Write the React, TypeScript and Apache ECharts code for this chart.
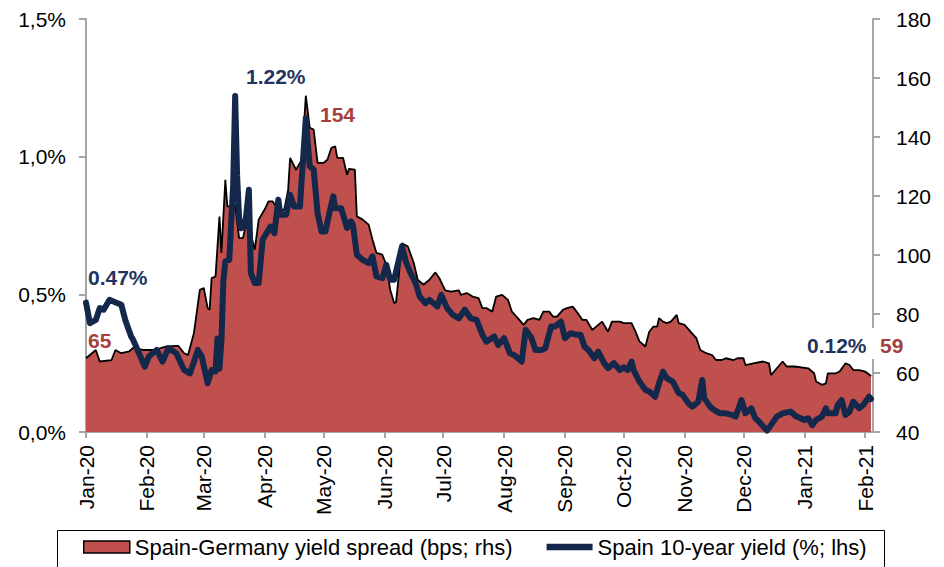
import React, { useEffect, useRef } from "react";
import * as echarts from "echarts";

const FONT = "'Liberation Sans', Arial, sans-serif";
const NAVY = "#14284b";
const NAVY_TEXT = "#1f3560";
const RED_FILL = "#c0504d";
const RED_TEXT = "#a5403d";
const AXIS_GRAY = "#a6a6a6";

const monthStarts = [
  "2020-01-01", "2020-02-01", "2020-03-01", "2020-04-01", "2020-05-01", "2020-06-01", "2020-07-01",
  "2020-08-01", "2020-09-01", "2020-10-01", "2020-11-01", "2020-12-01", "2021-01-01", "2021-02-01",
];
const monthLabels = [
  "Jan-20", "Feb-20", "Mar-20", "Apr-20", "May-20", "Jun-20", "Jul-20",
  "Aug-20", "Sep-20", "Oct-20", "Nov-20", "Dec-20", "Jan-21", "Feb-21",
];
const axisStart = "2020-01-01";
const axisEnd = "2021-02-05";

// Spain-Germany yield spread (bps, right axis)
const spreadDates = [
  "2020-01-01", "2020-01-06", "2020-01-08", "2020-01-14", "2020-01-16", "2020-01-19", "2020-01-23", "2020-01-25", "2020-01-30",
  "2020-02-05", "2020-02-11", "2020-02-17", "2020-02-20", "2020-02-22", "2020-02-25", "2020-02-28",
  "2020-03-01", "2020-03-03", "2020-03-04", "2020-03-05", "2020-03-07", "2020-03-09", "2020-03-10", "2020-03-12", "2020-03-13", "2020-03-15", "2020-03-17", "2020-03-19", "2020-03-21", "2020-03-23", "2020-03-27", "2020-03-29",
  "2020-04-01", "2020-04-03", "2020-04-05", "2020-04-08", "2020-04-11", "2020-04-13", "2020-04-14", "2020-04-17", "2020-04-20", "2020-04-22", "2020-04-24", "2020-04-26", "2020-04-28",
  "2020-05-01", "2020-05-03", "2020-05-05", "2020-05-07", "2020-05-08", "2020-05-11", "2020-05-13", "2020-05-14", "2020-05-17", "2020-05-18", "2020-05-21", "2020-05-24", "2020-05-26", "2020-05-28", "2020-05-31",
  "2020-06-02", "2020-06-04", "2020-06-06", "2020-06-07", "2020-06-10", "2020-06-13", "2020-06-16", "2020-06-18", "2020-06-21", "2020-06-24", "2020-06-27", "2020-06-29",
  "2020-07-02", "2020-07-05", "2020-07-09", "2020-07-10", "2020-07-13", "2020-07-16", "2020-07-19", "2020-07-21", "2020-07-23", "2020-07-26", "2020-07-28", "2020-07-31",
  "2020-08-03", "2020-08-05", "2020-08-08", "2020-08-11", "2020-08-13", "2020-08-16", "2020-08-19", "2020-08-21", "2020-08-24", "2020-08-26", "2020-08-28", "2020-08-31",
  "2020-09-02", "2020-09-05", "2020-09-07", "2020-09-10", "2020-09-12", "2020-09-15", "2020-09-18", "2020-09-20", "2020-09-23", "2020-09-25", "2020-09-29",
  "2020-10-01", "2020-10-05", "2020-10-07", "2020-10-09", "2020-10-12", "2020-10-14", "2020-10-16", "2020-10-18", "2020-10-19", "2020-10-21", "2020-10-23", "2020-10-25", "2020-10-28", "2020-10-29",
  "2020-11-01", "2020-11-04", "2020-11-07", "2020-11-09", "2020-11-12", "2020-11-15", "2020-11-17", "2020-11-20", "2020-11-22", "2020-11-26", "2020-11-28",
  "2020-12-01", "2020-12-02", "2020-12-06", "2020-12-11", "2020-12-14", "2020-12-15", "2020-12-18", "2020-12-21", "2020-12-23", "2020-12-27",
  "2021-01-03", "2021-01-06", "2021-01-07", "2021-01-10", "2021-01-12", "2021-01-13", "2021-01-17", "2021-01-19", "2021-01-22", "2021-01-24", "2021-01-26", "2021-01-29",
  "2021-02-01", "2021-02-04",
];
const spreadBps = [
  65, 67.8, 63.9, 64.4, 67.8, 66.7, 67.3, 68.5, 67.8,
  67.8, 69, 69.2, 66.7, 66.1, 73.6, 88.2,
  88.8, 82, 81.4, 92.2, 92.7, 113, 100.7, 125.5, 116.5, 116.5, 117, 105.7, 105.7, 112, 101.8, 112,
  115.4, 118.2, 118.2, 115.4, 115.4, 122.1, 132.9, 128.9, 132.3, 154, 143.1, 142.5, 131.2,
  131.2, 132.3, 136.3, 136.8, 132.9, 132.9, 127.2, 129.2, 128.9, 113.1, 112, 110.3, 105.2, 100.7, 100.1,
  96.7, 88.2, 83.7, 84, 104, 102.9, 97.3, 91.6, 89.9, 91.6, 94.1, 92.2,
  88, 87.6, 88, 86.5, 87.1, 85.9, 85.4, 82, 82, 80.8, 85.9, 86.5,
  84.8, 80.8, 78.6, 76.3, 78, 78.6, 78, 80.8, 80.8, 79.1, 79.1, 81.4,
  82, 82.5, 80.8, 78, 78, 74.6, 76.3, 77.4, 74, 77.4, 77.4,
  76.9, 76.9, 74, 70.7, 69, 74, 75.7, 75.7, 78.6, 77.4, 76.9, 77.4, 79.7, 76.9,
  76.3, 74, 71.8, 67.8, 66.7, 66.1, 64.4, 64.4, 65, 64.4, 65,
  65, 62.7, 63.3, 63.9, 63.3, 59.3, 61.6, 63.9, 62.2, 62.2,
  61.6, 59.9, 57.1, 56, 56.5, 59.9, 59.9, 60.5, 63.3, 62.7, 61, 61,
  60.5, 59,
];

// Spain 10-year yield (%, left axis)
const yieldDates = [
  "2020-01-01", "2020-01-03", "2020-01-06", "2020-01-08", "2020-01-10", "2020-01-13", "2020-01-15", "2020-01-19", "2020-01-21", "2020-01-24", "2020-01-25", "2020-01-28", "2020-01-31",
  "2020-02-02", "2020-02-06", "2020-02-09", "2020-02-12", "2020-02-16", "2020-02-20", "2020-02-23", "2020-02-27", "2020-02-29",
  "2020-03-03", "2020-03-05", "2020-03-07", "2020-03-08", "2020-03-09", "2020-03-10", "2020-03-11", "2020-03-12", "2020-03-14", "2020-03-16", "2020-03-17", "2020-03-18", "2020-03-19", "2020-03-20", "2020-03-22", "2020-03-24", "2020-03-25", "2020-03-27", "2020-03-29", "2020-03-31",
  "2020-04-02", "2020-04-04", "2020-04-06", "2020-04-08", "2020-04-09", "2020-04-12", "2020-04-14", "2020-04-16", "2020-04-19", "2020-04-22", "2020-04-24", "2020-04-26", "2020-04-28", "2020-04-30",
  "2020-05-02", "2020-05-04", "2020-05-06", "2020-05-07", "2020-05-10", "2020-05-13", "2020-05-15", "2020-05-16", "2020-05-18", "2020-05-21", "2020-05-24", "2020-05-26", "2020-05-28", "2020-05-31",
  "2020-06-02", "2020-06-04", "2020-06-06", "2020-06-10", "2020-06-12", "2020-06-14", "2020-06-17", "2020-06-19", "2020-06-22", "2020-06-24", "2020-06-28", "2020-06-30",
  "2020-07-03", "2020-07-06", "2020-07-09", "2020-07-12", "2020-07-15", "2020-07-18", "2020-07-21", "2020-07-23", "2020-07-27", "2020-07-29",
  "2020-08-01", "2020-08-04", "2020-08-06", "2020-08-10", "2020-08-12", "2020-08-15", "2020-08-17", "2020-08-20", "2020-08-22", "2020-08-25", "2020-08-27", "2020-08-30",
  "2020-09-01", "2020-09-04", "2020-09-07", "2020-09-09", "2020-09-11", "2020-09-13", "2020-09-16", "2020-09-18", "2020-09-21", "2020-09-23", "2020-09-26", "2020-09-29",
  "2020-10-01", "2020-10-03", "2020-10-05", "2020-10-06", "2020-10-09", "2020-10-12", "2020-10-14", "2020-10-17", "2020-10-19", "2020-10-21", "2020-10-23", "2020-10-26", "2020-10-29", "2020-10-31",
  "2020-11-03", "2020-11-05", "2020-11-08", "2020-11-10", "2020-11-11", "2020-11-14", "2020-11-16", "2020-11-19", "2020-11-22", "2020-11-25", "2020-11-27", "2020-11-30",
  "2020-12-02", "2020-12-05", "2020-12-07", "2020-12-09", "2020-12-13", "2020-12-15", "2020-12-18", "2020-12-21", "2020-12-25", "2020-12-28",
  "2021-01-01", "2021-01-03", "2021-01-05", "2021-01-07", "2021-01-10", "2021-01-12", "2021-01-13", "2021-01-17", "2021-01-18", "2021-01-20", "2021-01-22", "2021-01-24", "2021-01-26", "2021-01-29", "2021-01-31",
  "2021-02-03", "2021-02-04",
];
const yieldPct = [
  0.47, 0.395, 0.407, 0.45, 0.444, 0.48, 0.474, 0.462, 0.407, 0.347, 0.335, 0.286, 0.237,
  0.274, 0.298, 0.256, 0.304, 0.286, 0.225, 0.213, 0.298, 0.274,
  0.177, 0.225, 0.22, 0.34, 0.23, 0.33, 0.55, 0.62, 0.625, 0.9, 1.22, 0.93, 0.78, 0.74, 0.746, 0.88, 0.577, 0.541, 0.541, 0.698,
  0.722, 0.746, 0.722, 0.844, 0.789, 0.789, 0.862, 0.819, 0.819, 1.14, 0.965, 0.953, 0.795, 0.728,
  0.728, 0.795, 0.856, 0.813, 0.813, 0.741, 0.765, 0.753, 0.644, 0.625, 0.613, 0.638, 0.565, 0.559,
  0.607, 0.553, 0.553, 0.674, 0.619, 0.583, 0.541, 0.492, 0.468, 0.48, 0.456, 0.498,
  0.45, 0.425, 0.413, 0.444, 0.413, 0.407, 0.353, 0.328, 0.347, 0.316,
  0.341, 0.286, 0.28, 0.256, 0.371, 0.341, 0.298, 0.298, 0.304, 0.383, 0.383, 0.401,
  0.341, 0.359, 0.353, 0.353, 0.31, 0.298, 0.268, 0.292, 0.25, 0.232, 0.25, 0.225,
  0.235, 0.225, 0.256, 0.225, 0.183, 0.153, 0.147, 0.128, 0.177, 0.219, 0.195, 0.183, 0.141, 0.135,
  0.104, 0.092, 0.11, 0.189, 0.123, 0.092, 0.08, 0.068, 0.068, 0.062, 0.056, 0.116,
  0.068, 0.086, 0.05, 0.037, 0.005, 0.025, 0.056, 0.068, 0.074, 0.056,
  0.044, 0.05, 0.025, 0.044, 0.056, 0.086, 0.068, 0.068, 0.098, 0.116, 0.062, 0.074, 0.11, 0.086, 0.098,
  0.128, 0.12,
];

const seriesNames = ["Spain-Germany yield spread (bps; rhs)", "Spain 10-year yield (%; lhs)"];

const DAY0 = Date.UTC(2020, 0, 1);
function toDay(s: string): number {
  const [y, m, d] = s.split("-").map(Number);
  return Math.round((Date.UTC(y, m - 1, d) - DAY0) / 86400000);
}

export default function App() {
  const ref = useRef<HTMLDivElement>(null);

  useEffect(() => {
    if (!ref.current) return;
    const chart = echarts.init(ref.current, undefined, { renderer: "svg" });
    const monthDays = monthStarts.map(toDay);
    const labelOf: Record<number, string> = {};
    monthDays.forEach((d, i) => (labelOf[d] = monthLabels[i]));

    const spreadData = spreadDates.map((d, i) => [toDay(d), spreadBps[i]]);
    const yieldData = yieldDates.map((d, i) => [toDay(d), yieldPct[i]]);

    const axisLineStyle = { color: AXIS_GRAY, width: 2 };
    const labelStyle = { fontFamily: FONT, fontSize: 21, color: "#000" };
    const noteFont = { fontFamily: FONT, fontSize: 21, fontWeight: "bold" as const };

    chart.setOption({
      animation: false,
      textStyle: { fontFamily: FONT },
      grid: { left: 86, right: 71, top: 19, bottom: 135, containLabel: false },
      xAxis: {
        type: "value",
        min: toDay(axisStart),
        max: toDay(axisEnd),
        splitLine: { show: false },
        axisLine: { show: true, lineStyle: axisLineStyle },
        axisTick: { show: true, length: 6, customValues: monthDays, lineStyle: axisLineStyle },
        axisLabel: {
          ...labelStyle,
          customValues: monthDays,
          rotate: 90,
          margin: 13,
          formatter: (v: number) => labelOf[v] ?? "",
        },
      },
      yAxis: [
        {
          type: "value",
          position: "left",
          min: 0,
          max: 1.5,
          interval: 0.5,
          splitLine: { show: false },
          axisLine: { show: true, lineStyle: axisLineStyle },
          axisTick: { show: true, length: 7, lineStyle: axisLineStyle },
          axisLabel: {
            ...labelStyle,
            margin: 20,
            formatter: (v: number) => v.toFixed(1).replace(".", ",") + "%",
          },
        },
        {
          type: "value",
          position: "right",
          min: 40,
          max: 180,
          interval: 20,
          splitLine: { show: false },
          axisLine: { show: true, lineStyle: axisLineStyle },
          axisTick: { show: true, length: 7, lineStyle: axisLineStyle },
          axisLabel: { ...labelStyle, margin: 23 },
        },
      ],
      legend: {
        left: 83,
        top: 536,
        padding: 0,
        itemWidth: 46,
        itemHeight: 12,
        itemGap: 34,
        textStyle: { ...labelStyle, fontSize: 22 },
        data: [
          {
            name: seriesNames[0],
            icon: "rect",
            itemStyle: { color: RED_FILL, borderColor: "#000", borderWidth: 1.5 },
          },
          {
            name: seriesNames[1],
            icon: "path://M0 0H80V11H0Z",
            itemStyle: { color: NAVY },
          },
        ],
      },
      series: [
        {
          name: seriesNames[0],
          type: "line",
          yAxisIndex: 1,
          data: spreadData,
          symbol: "none",
          z: 2,
          itemStyle: { color: RED_FILL },
          lineStyle: { color: "#000", width: 1.8 },
          areaStyle: { color: RED_FILL, opacity: 1, origin: "start" },
        },
        {
          name: seriesNames[1],
          type: "line",
          yAxisIndex: 0,
          data: yieldData,
          symbol: "none",
          clip: false,
          z: 3,
          itemStyle: { color: NAVY },
          lineStyle: { color: NAVY, width: 6, cap: "round", join: "round" },
        },
      ],
      graphic: [
        {
          type: "rect",
          z: 50,
          shape: { x: 57.5, y: 530.5, width: 827, height: 60 },
          style: { fill: "none", stroke: "#000", lineWidth: 1 },
        },
        { type: "text", z: 60, x: 88, y: 277, style: { text: "0.47%", fill: NAVY_TEXT, ...noteFont, verticalAlign: "middle" } },
        { type: "text", z: 60, x: 88, y: 340, style: { text: "65", fill: RED_TEXT, ...noteFont, verticalAlign: "middle" } },
        { type: "text", z: 60, x: 246, y: 76, style: { text: "1.22%", fill: NAVY_TEXT, ...noteFont, verticalAlign: "middle" } },
        { type: "text", z: 60, x: 320, y: 114, style: { text: "154", fill: RED_TEXT, ...noteFont, verticalAlign: "middle" } },
        { type: "text", z: 60, x: 807, y: 345, style: { text: "0.12%", fill: NAVY_TEXT, ...noteFont, verticalAlign: "middle" } },
        {
          type: "rect",
          z: 61,
          shape: { x: 866, y: 328, width: 46, height: 31 },
          style: { fill: "#fff", stroke: "none" },
        },
        { type: "text", z: 62, x: 880, y: 345, style: { text: "59", fill: RED_TEXT, ...noteFont, verticalAlign: "middle" } },
      ],
    });

    return () => chart.dispose();
  }, []);

  return (
    <div
      ref={ref}
      style={{ position: "absolute", left: 0, top: 0, width: 944, height: 567, background: "#fff" }}
    />
  );
}
